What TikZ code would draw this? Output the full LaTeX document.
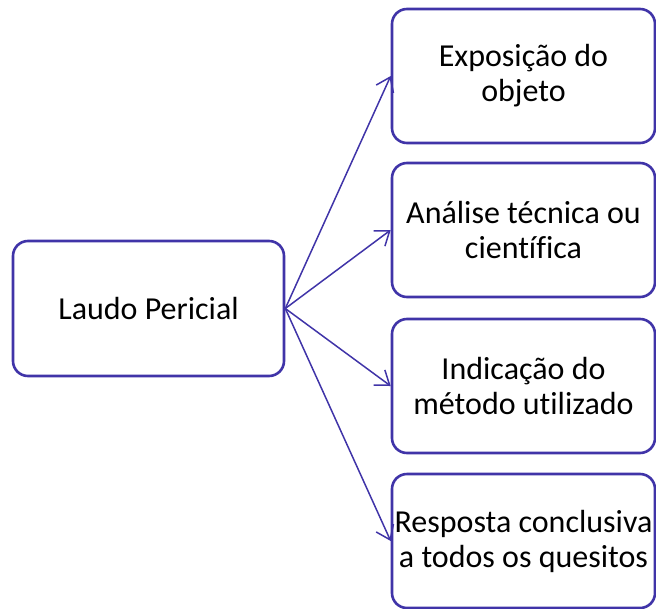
\documentclass[tikz,border=0pt]{standalone}
\usepackage{fontspec}
\setmainfont{Carlito}[Ligatures={NoCommon}]
\usetikzlibrary{arrows.meta}
\definecolor{boxblue}{RGB}{64,52,168}
\tikzset{
  box/.style={draw=boxblue, line width=2.6pt, rounded corners=15pt, fill=white,
    align=center, inner sep=0pt, font=\fontsize{32}{35}\selectfont, text=black},
  conn/.style={draw=boxblue, line width=1.5pt,
    -{Straight Barb[length=13pt,width=19pt,line width=1.5pt]}}
}
\begin{document}
\begin{tikzpicture}[x=1pt,y=-1pt]
\useasboundingbox (0,0) rectangle (656,608);
\node[box, minimum width=271pt, minimum height=135pt] (root) at (148.5,308.5) {Laudo Pericial};
\node[box, minimum width=263pt, minimum height=134pt] (a) at (523.5,76) {Exposição do\\objeto};
\node[box, minimum width=263pt, minimum height=134pt] (b) at (523.5,230) {Análise técnica ou\\científica};
\node[box, minimum width=263pt, minimum height=134pt] (c) at (523.5,386) {Indicação do\\método utilizado};
\node[box, minimum width=263pt, minimum height=134pt] (d) at (523.5,541) {Resposta conclusiva\\a todos os quesitos};
\foreach \t in {a,b,c,d}
  \draw[conn] (root.east) -- (\t.west);
\end{tikzpicture}
\end{document}
